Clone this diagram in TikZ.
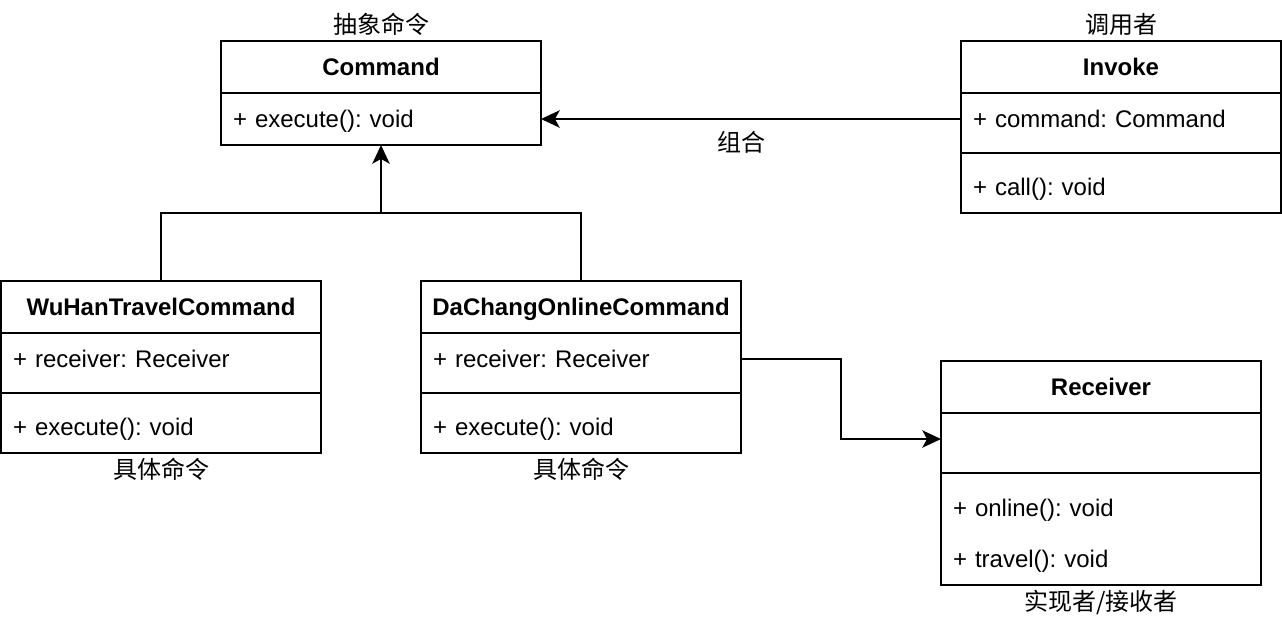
\documentclass[tikz,border=0pt]{standalone}
\usepackage{fontspec}
\setmainfont{Liberation Sans}
\newfontfamily\cjk{Noto Sans CJK SC}
\usepackage{tikz}
\usetikzlibrary{positioning,arrows.meta}
\frenchspacing

\begin{document}
\begin{tikzpicture}[x=0.75pt, y=-0.75pt, line width=1.5pt, node distance=0pt,
  umlhead/.style={draw, outer sep=0pt, minimum width=240pt, minimum height=39pt, text height=16.2pt, text depth=3.8pt, font=\fontsize{18}{21}\selectfont\bfseries},
  umlrow/.style={draw, outer sep=0pt, inner xsep=9pt, text width=222pt, align=left, minimum height=45pt, font=\fontsize{18}{21}\selectfont},
  umlattr/.style={umlrow, text height=13.2pt, text depth=7pt},
  umlop/.style={umlrow, text height=22.2pt, text depth=3.8pt},
  lbl/.style={font=\cjk\fontsize{18}{21}\selectfont},
  >={Stealth[length=14pt,width=13pt,inset=3.5pt]}]
\useasboundingbox (0,0) rectangle (1282,626);
% classes
\node[umlhead] (cmd) at (381,67) {Command};
\node[umlrow, minimum height=39pt, text height=16.2pt, text depth=3.8pt, below=of cmd] (cmdm) {+ execute(): void};
\node[umlhead] (inv) at (1121,67) {Invoke};
\node[umlattr, below=of inv] (inva) {+ command: Command};
\node[umlop, below=of inva] (invm) {+ call(): void};
\node[umlhead] (wh) at (161,307) {WuHanTravelCommand};
\node[umlattr, below=of wh] (wha) {+ receiver: Receiver};
\node[umlop, below=of wha] (whm) {+ execute(): void};
\node[umlhead] (dc) at (581,307) {DaChangOnlineCommand};
\node[umlattr, below=of dc] (dca) {+ receiver: Receiver};
\node[umlop, below=of dca] (dcm) {+ execute(): void};
\node[umlhead] (rec) at (1101,387) {Receiver};
\node[umlrow, below=of rec] (reca) {};
\node[umlrow, minimum height=84pt, below=of reca] (recm) {\rule{0pt}{23.7pt}+ online(): void\\[17pt]+ travel(): void};
% labels
\node[lbl, above=of cmd] (cmdlbl) {抽象命令};
\node[lbl, above=of inv] (invlbl) {调用者};
\node[lbl, below=of whm] (whlbl) {具体命令};
\node[lbl, below=of dcm] (dclbl) {具体命令};
\node[lbl, below=of recm] (reclbl) {实现者/接收者};
\node[lbl] (comp) at (741,142) {组合};
% connectors
\coordinate (join) at (381,213);
\draw[->] (cmdm.east -| inva.west) -- (cmdm.east);
\draw (wh.north) |- (join);
\draw (dc.north) |- (join);
\draw[->] (join) -- (cmdm.south);
\draw[->] (dca.east) ++(0,-4) -- ++(100,0) |- ([yshift=3pt]reca.west);
\end{tikzpicture}
\end{document}
